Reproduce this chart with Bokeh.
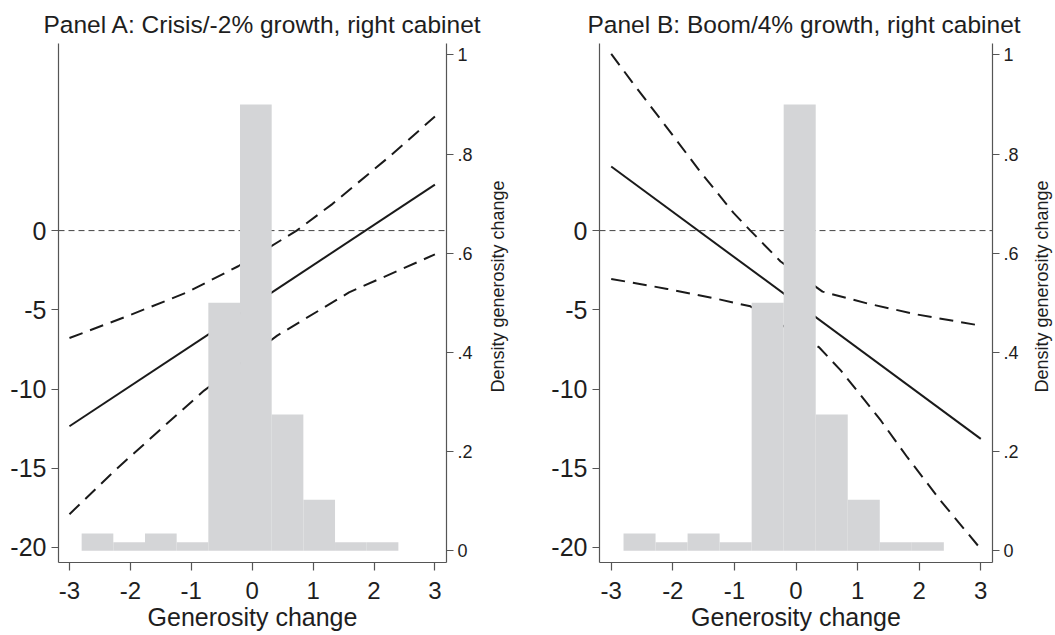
from bokeh.plotting import figure
from bokeh.layouts import row
from bokeh.models import Range1d, LinearAxis, FixedTicker, Span, Title
from bokeh.embed import file_html
from bokeh.resources import INLINE

FONT = "Liberation Sans"
TEXT = "#1e1e1e"
AXIS = "#555555"
LINE = "#1a1a1a"
BAR = "#d4d5d7"
FRAME_H = 519
TOP = 43
BOTTOM = 73

# ---- data ----
x_ticks = [-3, -2, -1, 0, 1, 2, 3]
x_tick_labels = ["-3", "-2", "-1", "0", "1", "2", "3"]
y_ticks = [-20, -15, -10, -5, 0]
y_tick_labels = ["-20", "-15", "-10", "-5", "0"]
density_ticks = [0, 0.2, 0.4, 0.6, 0.8, 1.0]
density_tick_labels = ["0", ".2", ".4", ".6", ".8", "1"]

hist_edges = [-2.80, -2.28, -1.76, -1.24, -0.72, -0.20, 0.32, 0.84, 1.36, 1.88, 2.40]
hist_density = [0.035, 0.017, 0.035, 0.017, 0.50, 0.90, 0.275, 0.103, 0.017, 0.017]

a_fit_x = [-3, 3]
a_fit_y = [-12.35, 2.90]
a_upper_x = [-3.0, -2.03, -1.07, -0.23, 0.73, 1.32, 2.24, 3.0]
a_upper_y = [-6.78, -5.37, -3.90, -2.25, 0.0, 1.69, 4.63, 7.20]
a_lower_x = [-3.0, -2.26, -1.50, -0.79, 0.41, 1.59, 3.0]
a_lower_y = [-17.9, -15.16, -12.53, -10.1, -6.63, -3.9, -1.5]

b_fit_x = [-3, 3]
b_fit_y = [4.05, -13.15]
b_upper_x = [-3.0, -2.66, -2.15, -1.55, -1.01, -0.74, -0.25, 0.43, 1.16, 1.97, 3.0]
b_upper_y = [11.16, 9.37, 6.78, 3.70, 1.10, 0.0, -1.95, -3.85, -4.60, -5.30, -6.0]
b_lower_x = [-3.0, -2.09, -1.28, -0.74, 0.37, 0.73, 1.38, 1.81, 2.35, 3.0]
b_lower_y = [-3.05, -3.68, -4.31, -4.78, -7.35, -8.84, -12.0, -14.32, -17.06, -20.1]

titles = ["Panel A: Crisis/-2% growth, right cabinet",
          "Panel B: Boom/4% growth, right cabinet"]
x_label = "Generosity change"
density_label = "Density generosity change"


def style_axis(ax, label_size, tick_out):
    ax.axis_line_color = AXIS
    ax.axis_line_width = 1.2
    ax.major_tick_line_color = AXIS
    ax.major_tick_line_width = 1.2
    ax.major_tick_out = tick_out
    ax.major_tick_in = 0
    ax.minor_tick_line_color = None
    ax.major_label_text_font = FONT
    ax.major_label_text_font_size = label_size
    ax.major_label_text_color = TEXT
    ax.axis_label_text_font = FONT
    ax.axis_label_text_font_style = "normal"
    ax.axis_label_text_color = TEXT


def make_panel(title, title_offset, fit_x, fit_y, up_x, up_y, lo_x, lo_y,
               x_range, border_left, frame_width, border_right):
    p = figure(frame_width=frame_width, frame_height=FRAME_H,
               x_range=Range1d(*x_range), y_range=Range1d(-20.95, 11.81),
               output_backend="svg", toolbar_location=None,
               min_border_left=border_left, min_border_right=border_right,
               min_border_top=TOP, min_border_bottom=BOTTOM, title=title)
    p.extra_y_ranges = {"density": Range1d(-0.0236, 1.0228)}
    p.outline_line_color = None
    p.xgrid.visible = False
    p.ygrid.visible = False
    p.background_fill_color = "white"
    p.border_fill_color = "white"

    p.title.text_font = FONT
    p.title.text_font_size = "24.5px"
    p.title.text_font_style = "normal"
    p.title.text_color = TEXT
    p.title.align = "left"
    p.title.offset = title_offset
    p.title.vertical_align = "top"
    p.title.standoff = 8

    xa = p.xaxis[0]
    xa.ticker = FixedTicker(ticks=x_ticks)
    style_axis(xa, "24px", 8)
    xa.major_label_standoff = 11
    xa.major_label_overrides = dict(zip(x_ticks, x_tick_labels))
    xa.axis_label = x_label
    xa.axis_label_text_font_size = "25px"
    xa.axis_label_standoff = 1

    ya = p.yaxis[0]
    ya.ticker = FixedTicker(ticks=y_ticks)
    style_axis(ya, "25px", 7)
    ya.major_label_standoff = 5
    ya.major_label_overrides = dict(zip(y_ticks, y_tick_labels))

    ra = LinearAxis(y_range_name="density", ticker=FixedTicker(ticks=density_ticks))
    style_axis(ra, "18px", 7)
    ra.major_label_standoff = 4
    ra.major_label_overrides = dict(zip(density_ticks, density_tick_labels))
    p.add_layout(ra, "right")

    zero = Span(location=0, dimension="width", line_color="#444444", line_width=1,
                line_dash="6 4", level="underlay")
    p.add_layout(zero)

    p.line(fit_x, fit_y, line_color=LINE, line_width=2)
    p.line(up_x, up_y, line_color=LINE, line_width=2, line_dash="14 8")
    p.line(lo_x, lo_y, line_color=LINE, line_width=2, line_dash="14 8")

    p.quad(left=hist_edges[:-1], right=hist_edges[1:], bottom=0, top=hist_density,
           y_range_name="density", fill_color=BAR, line_color=None)
    return p


def density_title_strip(frame_width):
    """Narrow strip carrying the right-axis title, reading bottom-to-top."""
    s = figure(frame_width=frame_width, frame_height=FRAME_H,
               x_range=Range1d(0, 1), y_range=Range1d(0, 1),
               x_axis_location=None, y_axis_location=None,
               output_backend="svg", toolbar_location=None,
               min_border_left=22, min_border_right=0,
               min_border_top=TOP, min_border_bottom=BOTTOM)
    s.outline_line_color = None
    s.grid.visible = False
    s.background_fill_color = "white"
    s.border_fill_color = "white"
    t = Title(text=density_label, align="left", offset=170, vertical_align="middle",
              standoff=0, text_font=FONT, text_font_size="18px",
              text_font_style="normal", text_color=TEXT)
    s.add_layout(t, "left")
    return s


pa = make_panel(titles[0], -15, a_fit_x, a_fit_y, a_upper_x, a_upper_y, a_lower_x, a_lower_y,
                (-3.18, 3.19), 58, 388, 40)
sa = density_title_strip(2)
pb = make_panel(titles[1], -12, b_fit_x, b_fit_y, b_upper_x, b_upper_y, b_lower_x, b_lower_y,
                (-3.19, 3.19), 89, 393, 38)
sb = density_title_strip(1)

layout = row(pa, sa, pb, sb)
open("out.html", "w").write(file_html(layout, INLINE))
